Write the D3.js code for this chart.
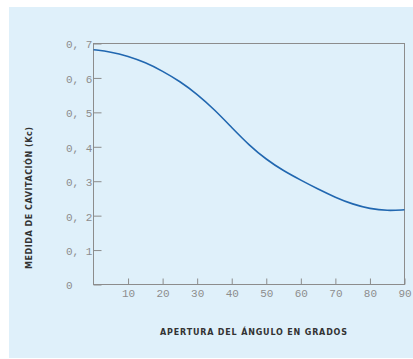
<!DOCTYPE html>
<html>
<head>
<meta charset="utf-8">
<script src="https://cdn.jsdelivr.net/npm/d3@7"></script>
<style>
  body { margin: 0; background: #fff; }
  svg { display: block; }
</style>
</head>
<body>
<div id="graph"></div>
<script>
    // angle (degrees) vs cavitation measure
    const angles = [0, 5, 10, 15, 20, 25, 30, 35, 40, 45, 50, 55, 60, 65, 70, 75, 80, 85, 90];
    const kcValues = [0.682, 0.676, 0.663, 0.645, 0.620, 0.590, 0.553, 0.508, 0.456, 0.405, 0.363, 0.330, 0.303, 0.277, 0.253, 0.233, 0.220, 0.214, 0.217];
    const xTicks = [10, 20, 30, 40, 50, 60, 70, 80, 90];
    const yTicks = [0, 0.1, 0.2, 0.3, 0.4, 0.5, 0.6, 0.7];

    const w = 413;
    const h = 359;
    const padLeft = 93.5, padRight = 404.5, padTop = 43.5, padBottom = 284.5;

    const svg = d3.select('#graph')
        .append('svg')
        .attr('width', w)
        .attr('height', h);

    svg.append('rect')
        .attr('x', 9).attr('y', 7)
        .attr('width', w - 9).attr('height', 351)
        .attr('fill', '#dff0fa');

    const xScale = d3.scaleLinear().domain([0, 90]).range([padLeft, padRight]);
    const yScale = d3.scaleLinear().domain([0, 0.7]).range([padBottom, padTop]);

    const xAxis = d3.axisBottom(xScale)
        .tickValues(xTicks)
        .tickSizeInner(-6)
        .tickSizeOuter(0)
        .tickPadding(5)
        .tickFormat(d3.format("d"));

    const yAxis = d3.axisLeft(yScale)
        .tickValues(yTicks)
        .tickSizeInner(-8)
        .tickSizeOuter(0)
        .tickFormat(function (d) {
            if (d === 0) return '0';
            return d3.format(".1f")(d).replace('.', ', ');
        });

    const gx = svg.append('g')
        .attr('transform', 'translate(0,' + padBottom + ')')
        .call(xAxis);

    const gy = svg.append('g')
        .attr('transform', 'translate(' + padLeft + ',0)')
        .call(yAxis);

    [gx, gy].forEach(function (g) {
        g.select('.domain').remove();
        g.selectAll('line').attr('stroke', '#8c8c8c');
        g.selectAll('text')
            .attr('fill', '#8d8d8d')
            .style('font-family', '"Liberation Mono", monospace')
            .style('font-size', '11px');
    });

    gy.selectAll('text')
        .attr('x', -27.5)
        .attr('dy', '0.4em')
        .attr('text-anchor', 'start');

    // frame
    svg.append('rect')
        .attr('x', padLeft).attr('y', padTop)
        .attr('width', padRight - padLeft).attr('height', padBottom - padTop)
        .attr('fill', 'none')
        .attr('stroke', '#8c8c8c')
        .attr('stroke-width', 1);

    const line = d3.line()
        .x((d, i) => xScale(angles[i]))
        .y((d) => yScale(d))
        .curve(d3.curveBasis);

    svg.append('path')
        .datum(kcValues)
        .attr('d', line)
        .attr('fill', 'none')
        .attr('stroke', '#2167b0')
        .attr('stroke-width', 1.6);

    svg.append('text')
        .attr('transform', 'translate(32,198) rotate(-90)')
        .attr('text-anchor', 'middle')
        .attr('textLength', 142)
        .attr('lengthAdjust', 'spacing')
        .attr('fill', '#333')
        .style('font-family', '"DejaVu Sans", sans-serif')
        .style('font-weight', 'bold')
        .style('font-size', '8px')
        .text('MEDIDA DE CAVITACIÓN (Kc)');

    svg.append('text')
        .attr('x', 253.5)
        .attr('y', 335)
        .attr('text-anchor', 'middle')
        .attr('textLength', 187)
        .attr('lengthAdjust', 'spacing')
        .attr('fill', '#333')
        .style('font-family', '"DejaVu Sans", sans-serif')
        .style('font-weight', 'bold')
        .style('font-size', '8px')
        .text('APERTURA DEL ÁNGULO EN GRADOS');
</script>
</body>
</html>
